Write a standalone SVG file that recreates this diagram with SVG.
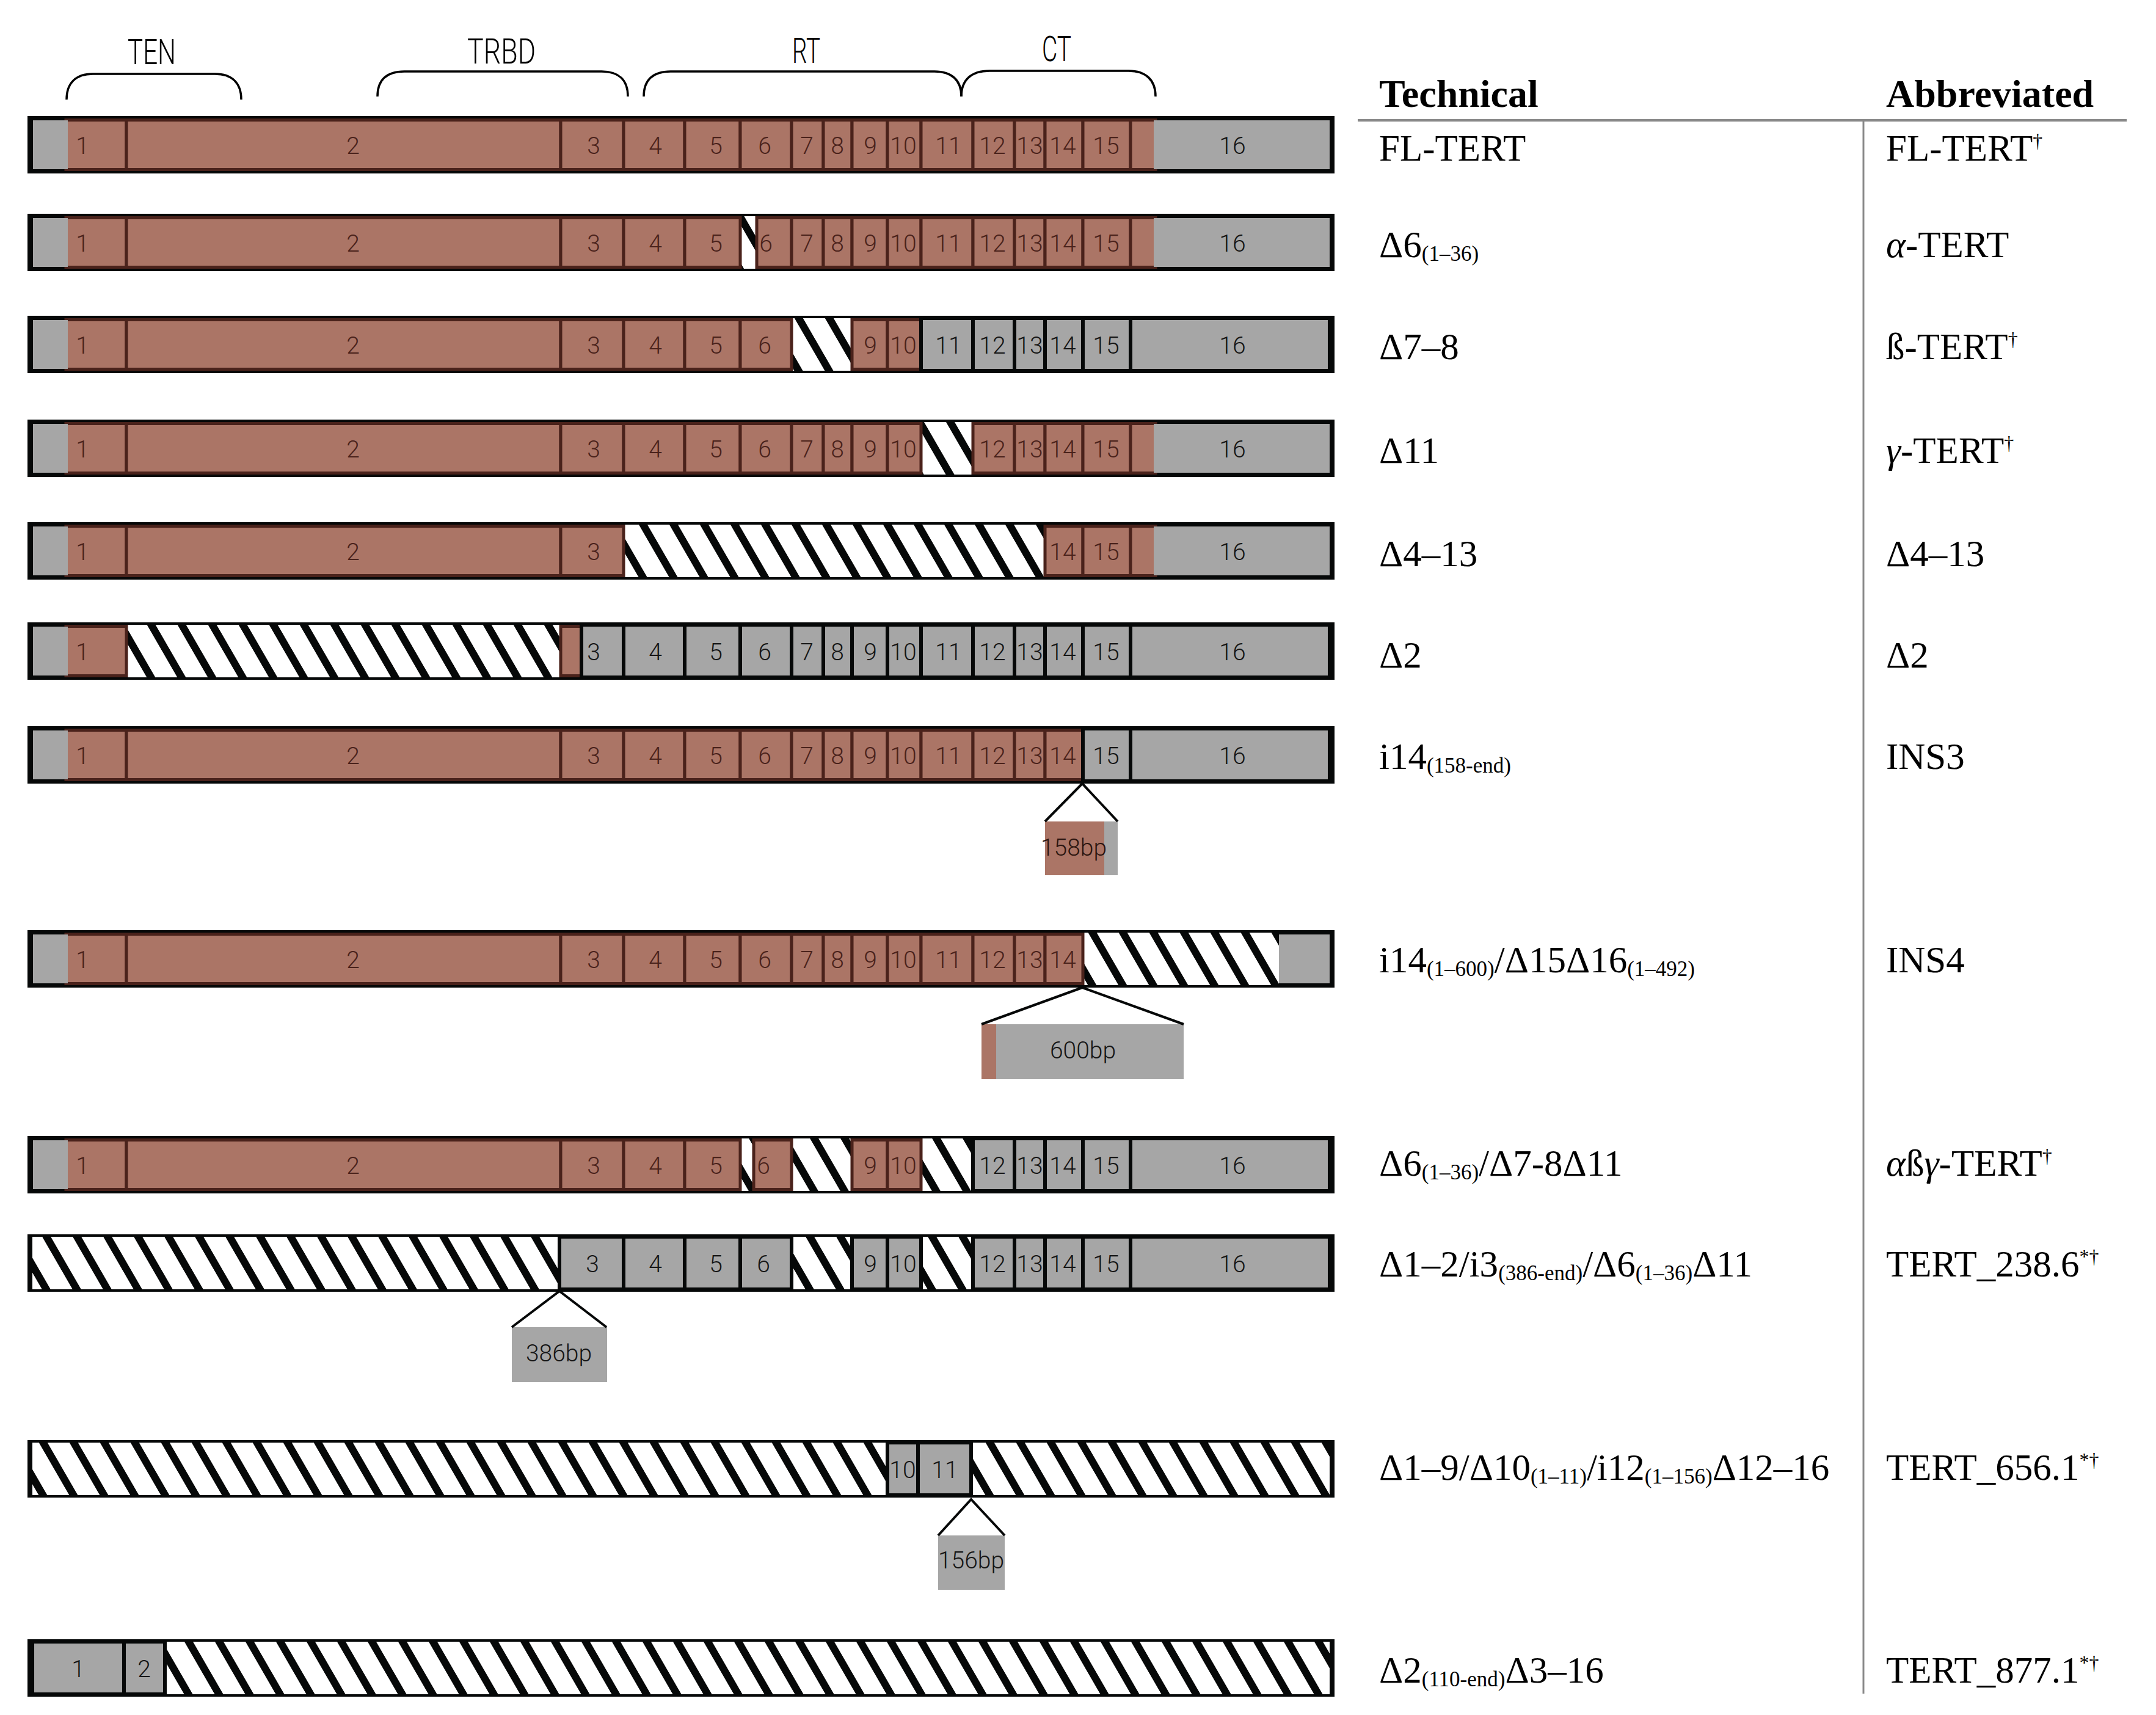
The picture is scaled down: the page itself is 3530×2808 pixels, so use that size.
<svg xmlns="http://www.w3.org/2000/svg" width="3530" height="2808" viewBox="0 0 3530 2808">
<defs>
<pattern id="hatch" patternUnits="userSpaceOnUse" width="50" height="50" patternTransform="skewX(30)">
<rect width="50" height="50" fill="#ffffff"/>
<rect width="14" height="50" fill="#060808"/>
</pattern>
<style>
.fr{fill:#060808}
.b{fill:#ab7566;stroke:#4a221b;stroke-width:5}
.u{fill:#a6a6a6}
.g{fill:#a6a6a6;stroke:#060808;stroke-width:6}
.h{fill:url(#hatch)}
.n{font-family:Roboto,"Liberation Sans",sans-serif;font-weight:300;font-size:39px;text-anchor:middle;fill:#4a221b}
.k{fill:#151515}
.hd{font-family:Roboto,"Liberation Sans",sans-serif;font-weight:300;font-size:58px;fill:#000}
.br{fill:none;stroke:#000;stroke-width:3.5}
.t{font-family:"Liberation Serif","Times New Roman",serif;font-size:61px;fill:#000}
.th{font-family:"Liberation Serif","Times New Roman",serif;font-size:64px;font-weight:bold;fill:#000}
.s{font-size:35px}
.sp{font-size:32px}
.ln{stroke:#898989;stroke-width:4}
.cn{fill:none;stroke:#060808;stroke-width:4;stroke-linejoin:miter}
</style>
</defs>
<rect width="3530" height="2808" fill="#ffffff"/>

<g id="domains">
<path class="br" d="M109,163 C109,136 124,121 152,121 L352,121 C380,121 395,136 395,163"/>
<path class="br" d="M618,158 C618,131 633,117 662,117 L985,117 C1013,117 1028,131 1028,158"/>
<path class="br" d="M1054,158 C1054,131 1069,117 1098,117 L1530,117 C1558,117 1574,131 1574,158"/>
<path class="br" d="M1574,158 C1574,131 1590,116 1620,116 L1848,116 C1876,116 1892,131 1892,158"/>
<text class="hd" x="209" y="105" textLength="79" lengthAdjust="spacingAndGlyphs">TEN</text>
<text class="hd" x="765" y="104" textLength="112" lengthAdjust="spacingAndGlyphs">TRBD</text>
<text class="hd" x="1297" y="103" textLength="46" lengthAdjust="spacingAndGlyphs">RT</text>
<text class="hd" x="1706" y="100" textLength="48" lengthAdjust="spacingAndGlyphs">CT</text>
</g>

<g id="table">
<text class="th" x="2258" y="175">Technical</text>
<text class="th" x="3088" y="175">Abbreviated</text>
<line class="ln" x1="2223" y1="197" x2="3482" y2="197"/>
<line class="ln" x1="3051" y1="197" x2="3051" y2="2773" style="stroke-width:3"/>
</g>

<g id="row1">
<rect class="fr" x="45" y="190" width="2140" height="94"/>
<rect class="b" x="108" y="196.5" width="99" height="81"/>
<rect class="b" x="207" y="196.5" width="711" height="81"/>
<rect class="b" x="918" y="196.5" width="103" height="81"/>
<rect class="b" x="1021" y="196.5" width="100" height="81"/>
<rect class="b" x="1121" y="196.5" width="91" height="81"/>
<rect class="b" x="1212" y="196.5" width="84" height="81"/>
<rect class="b" x="1296" y="196.5" width="52" height="81"/>
<rect class="b" x="1348" y="196.5" width="47" height="81"/>
<rect class="b" x="1395" y="196.5" width="58" height="81"/>
<rect class="b" x="1453" y="196.5" width="55" height="81"/>
<rect class="b" x="1508" y="196.5" width="85" height="81"/>
<rect class="b" x="1593" y="196.5" width="68" height="81"/>
<rect class="b" x="1661" y="196.5" width="50" height="81"/>
<rect class="b" x="1711" y="196.5" width="62" height="81"/>
<rect class="b" x="1773" y="196.5" width="78" height="81"/>
<rect class="b" x="1851" y="196.5" width="41" height="81"/>
<rect class="u" x="54" y="197" width="57" height="80"/>
<rect class="u" x="1889" y="197" width="288" height="80"/>
<text class="n" y="252"><tspan x="135">1</tspan><tspan x="578">2</tspan><tspan x="972">3</tspan><tspan x="1073">4</tspan><tspan x="1172">5</tspan><tspan x="1252">6</tspan><tspan x="1321">7</tspan><tspan x="1371">8</tspan><tspan x="1425">9</tspan><tspan x="1479">10</tspan><tspan x="1553">11</tspan><tspan x="1625">12</tspan><tspan x="1686">13</tspan><tspan x="1740">14</tspan><tspan x="1811">15</tspan></text>
<text class="n k" x="2018" y="252">16</text>
<text class="t" x="2258" y="263">FL-TERT</text>
<text class="t" x="3088" y="263">FL-TERT<tspan class="sp" dy="-22">†</tspan></text>
</g>

<g id="row2">
<rect class="fr" x="45" y="350" width="2140" height="94"/>
<rect class="h" x="1212" y="354" width="27" height="86"/>
<rect class="b" x="108" y="356.5" width="99" height="81"/>
<rect class="b" x="207" y="356.5" width="711" height="81"/>
<rect class="b" x="918" y="356.5" width="103" height="81"/>
<rect class="b" x="1021" y="356.5" width="100" height="81"/>
<rect class="b" x="1121" y="356.5" width="91" height="81"/>
<rect class="b" x="1239" y="356.5" width="57" height="81"/>
<rect class="b" x="1296" y="356.5" width="52" height="81"/>
<rect class="b" x="1348" y="356.5" width="47" height="81"/>
<rect class="b" x="1395" y="356.5" width="58" height="81"/>
<rect class="b" x="1453" y="356.5" width="55" height="81"/>
<rect class="b" x="1508" y="356.5" width="85" height="81"/>
<rect class="b" x="1593" y="356.5" width="68" height="81"/>
<rect class="b" x="1661" y="356.5" width="50" height="81"/>
<rect class="b" x="1711" y="356.5" width="62" height="81"/>
<rect class="b" x="1773" y="356.5" width="78" height="81"/>
<rect class="b" x="1851" y="356.5" width="41" height="81"/>
<rect class="u" x="54" y="357" width="57" height="80"/>
<rect class="u" x="1889" y="357" width="288" height="80"/>
<text class="n" y="412"><tspan x="135">1</tspan><tspan x="578">2</tspan><tspan x="972">3</tspan><tspan x="1073">4</tspan><tspan x="1172">5</tspan><tspan x="1254">6</tspan><tspan x="1321">7</tspan><tspan x="1371">8</tspan><tspan x="1425">9</tspan><tspan x="1479">10</tspan><tspan x="1553">11</tspan><tspan x="1625">12</tspan><tspan x="1686">13</tspan><tspan x="1740">14</tspan><tspan x="1811">15</tspan></text>
<text class="n k" x="2018" y="412">16</text>
<text class="t" x="2258" y="421">Δ6<tspan class="s" dy="6">(1–36)</tspan></text>
<text class="t" x="3088" y="421"><tspan font-style="italic">α</tspan>-TERT</text>
</g>

<g id="row3">
<rect class="fr" x="45" y="517" width="2140" height="94"/>
<rect class="h" x="1296" y="521" width="99" height="86"/>
<rect class="b" x="108" y="523.5" width="99" height="81"/>
<rect class="b" x="207" y="523.5" width="711" height="81"/>
<rect class="b" x="918" y="523.5" width="103" height="81"/>
<rect class="b" x="1021" y="523.5" width="100" height="81"/>
<rect class="b" x="1121" y="523.5" width="91" height="81"/>
<rect class="b" x="1212" y="523.5" width="84" height="81"/>
<rect class="b" x="1395" y="523.5" width="58" height="81"/>
<rect class="b" x="1453" y="523.5" width="55" height="81"/>
<rect class="u" x="54" y="524" width="57" height="80"/>
<rect class="g" x="1508" y="521" width="85" height="86"/>
<rect class="g" x="1593" y="521" width="68" height="86"/>
<rect class="g" x="1661" y="521" width="50" height="86"/>
<rect class="g" x="1711" y="521" width="62" height="86"/>
<rect class="g" x="1773" y="521" width="78" height="86"/>
<rect class="g" x="1851" y="521" width="326" height="86"/>
<text class="n" y="579"><tspan x="135">1</tspan><tspan x="578">2</tspan><tspan x="972">3</tspan><tspan x="1073">4</tspan><tspan x="1172">5</tspan><tspan x="1252">6</tspan><tspan x="1425">9</tspan><tspan x="1479">10</tspan></text>
<text class="n k" y="579"><tspan x="1553">11</tspan><tspan x="1625">12</tspan><tspan x="1686">13</tspan><tspan x="1740">14</tspan><tspan x="1811">15</tspan><tspan x="2018">16</tspan></text>
<text class="t" x="2258" y="588">Δ7–8</text>
<text class="t" x="3088" y="588">ß-TERT<tspan class="sp" dy="-22">†</tspan></text>
</g>

<g id="row4">
<rect class="fr" x="45" y="687" width="2140" height="94"/>
<rect class="h" x="1508" y="691" width="85" height="86"/>
<rect class="b" x="108" y="693.5" width="99" height="81"/>
<rect class="b" x="207" y="693.5" width="711" height="81"/>
<rect class="b" x="918" y="693.5" width="103" height="81"/>
<rect class="b" x="1021" y="693.5" width="100" height="81"/>
<rect class="b" x="1121" y="693.5" width="91" height="81"/>
<rect class="b" x="1212" y="693.5" width="84" height="81"/>
<rect class="b" x="1296" y="693.5" width="52" height="81"/>
<rect class="b" x="1348" y="693.5" width="47" height="81"/>
<rect class="b" x="1395" y="693.5" width="58" height="81"/>
<rect class="b" x="1453" y="693.5" width="55" height="81"/>
<rect class="b" x="1593" y="693.5" width="68" height="81"/>
<rect class="b" x="1661" y="693.5" width="50" height="81"/>
<rect class="b" x="1711" y="693.5" width="62" height="81"/>
<rect class="b" x="1773" y="693.5" width="78" height="81"/>
<rect class="b" x="1851" y="693.5" width="41" height="81"/>
<rect class="u" x="54" y="694" width="57" height="80"/>
<rect class="u" x="1889" y="694" width="288" height="80"/>
<text class="n" y="749"><tspan x="135">1</tspan><tspan x="578">2</tspan><tspan x="972">3</tspan><tspan x="1073">4</tspan><tspan x="1172">5</tspan><tspan x="1252">6</tspan><tspan x="1321">7</tspan><tspan x="1371">8</tspan><tspan x="1425">9</tspan><tspan x="1479">10</tspan><tspan x="1625">12</tspan><tspan x="1686">13</tspan><tspan x="1740">14</tspan><tspan x="1811">15</tspan></text>
<text class="n k" x="2018" y="749">16</text>
<text class="t" x="2258" y="758">Δ11</text>
<text class="t" x="3088" y="758"><tspan font-style="italic">γ</tspan>-TERT<tspan class="sp" dy="-22">†</tspan></text>
</g>

<g id="row5">
<rect class="fr" x="45" y="855" width="2140" height="94"/>
<rect class="h" x="1021" y="859" width="690" height="86"/>
<rect class="b" x="108" y="861.5" width="99" height="81"/>
<rect class="b" x="207" y="861.5" width="711" height="81"/>
<rect class="b" x="918" y="861.5" width="103" height="81"/>
<rect class="b" x="1711" y="861.5" width="62" height="81"/>
<rect class="b" x="1773" y="861.5" width="78" height="81"/>
<rect class="b" x="1851" y="861.5" width="41" height="81"/>
<rect class="u" x="54" y="862" width="57" height="80"/>
<rect class="u" x="1889" y="862" width="288" height="80"/>
<text class="n" y="917"><tspan x="135">1</tspan><tspan x="578">2</tspan><tspan x="972">3</tspan><tspan x="1740">14</tspan><tspan x="1811">15</tspan></text>
<text class="n k" x="2018" y="917">16</text>
<text class="t" x="2258" y="927">Δ4–13</text>
<text class="t" x="3088" y="927">Δ4–13</text>
</g>

<g id="row6">
<rect class="fr" x="45" y="1019" width="2140" height="94"/>
<rect class="h" x="207" y="1023" width="711" height="86"/>
<rect class="b" x="108" y="1025.5" width="99" height="81"/>
<rect class="b" x="918" y="1025.5" width="36" height="81"/>
<rect class="u" x="54" y="1026" width="57" height="80"/>
<rect class="g" x="952" y="1023" width="69" height="86"/>
<rect class="g" x="1021" y="1023" width="100" height="86"/>
<rect class="g" x="1121" y="1023" width="91" height="86"/>
<rect class="g" x="1212" y="1023" width="84" height="86"/>
<rect class="g" x="1296" y="1023" width="52" height="86"/>
<rect class="g" x="1348" y="1023" width="47" height="86"/>
<rect class="g" x="1395" y="1023" width="58" height="86"/>
<rect class="g" x="1453" y="1023" width="55" height="86"/>
<rect class="g" x="1508" y="1023" width="85" height="86"/>
<rect class="g" x="1593" y="1023" width="68" height="86"/>
<rect class="g" x="1661" y="1023" width="50" height="86"/>
<rect class="g" x="1711" y="1023" width="62" height="86"/>
<rect class="g" x="1773" y="1023" width="78" height="86"/>
<rect class="g" x="1851" y="1023" width="326" height="86"/>
<text class="n" x="135" y="1081">1</text>
<text class="n k" y="1081"><tspan x="972">3</tspan><tspan x="1073">4</tspan><tspan x="1172">5</tspan><tspan x="1252">6</tspan><tspan x="1321">7</tspan><tspan x="1371">8</tspan><tspan x="1425">9</tspan><tspan x="1479">10</tspan><tspan x="1553">11</tspan><tspan x="1625">12</tspan><tspan x="1686">13</tspan><tspan x="1740">14</tspan><tspan x="1811">15</tspan><tspan x="2018">16</tspan></text>
<text class="t" x="2258" y="1093">Δ2</text>
<text class="t" x="3088" y="1093">Δ2</text>
</g>

<g id="row7">
<rect class="fr" x="45" y="1189" width="2140" height="94"/>
<rect class="b" x="108" y="1195.5" width="99" height="81"/>
<rect class="b" x="207" y="1195.5" width="711" height="81"/>
<rect class="b" x="918" y="1195.5" width="103" height="81"/>
<rect class="b" x="1021" y="1195.5" width="100" height="81"/>
<rect class="b" x="1121" y="1195.5" width="91" height="81"/>
<rect class="b" x="1212" y="1195.5" width="84" height="81"/>
<rect class="b" x="1296" y="1195.5" width="52" height="81"/>
<rect class="b" x="1348" y="1195.5" width="47" height="81"/>
<rect class="b" x="1395" y="1195.5" width="58" height="81"/>
<rect class="b" x="1453" y="1195.5" width="55" height="81"/>
<rect class="b" x="1508" y="1195.5" width="85" height="81"/>
<rect class="b" x="1593" y="1195.5" width="68" height="81"/>
<rect class="b" x="1661" y="1195.5" width="50" height="81"/>
<rect class="b" x="1711" y="1195.5" width="62" height="81"/>
<rect class="u" x="54" y="1196" width="57" height="80"/>
<rect class="g" x="1773" y="1193" width="78" height="86"/>
<rect class="g" x="1851" y="1193" width="326" height="86"/>
<text class="n" y="1251"><tspan x="135">1</tspan><tspan x="578">2</tspan><tspan x="972">3</tspan><tspan x="1073">4</tspan><tspan x="1172">5</tspan><tspan x="1252">6</tspan><tspan x="1321">7</tspan><tspan x="1371">8</tspan><tspan x="1425">9</tspan><tspan x="1479">10</tspan><tspan x="1553">11</tspan><tspan x="1625">12</tspan><tspan x="1686">13</tspan><tspan x="1740">14</tspan></text>
<text class="n k" y="1251"><tspan x="1811">15</tspan><tspan x="2018">16</tspan></text>
<rect x="1711" y="1345" width="97" height="88" fill="#ab7566"/>
<rect x="1808" y="1345" width="22" height="88" fill="#a6a6a6"/>
<text class="n" x="1758" y="1401" style="fill:#2b1510">158bp</text>
<text class="t" x="2258" y="1259">i14<tspan class="s" dy="6">(158-end)</tspan></text>
<text class="t" x="3088" y="1259">INS3</text>
</g>

<g id="row8">
<rect class="fr" x="45" y="1523" width="2140" height="94"/>
<rect class="h" x="1773" y="1527" width="321" height="86"/>
<rect class="b" x="108" y="1529.5" width="99" height="81"/>
<rect class="b" x="207" y="1529.5" width="711" height="81"/>
<rect class="b" x="918" y="1529.5" width="103" height="81"/>
<rect class="b" x="1021" y="1529.5" width="100" height="81"/>
<rect class="b" x="1121" y="1529.5" width="91" height="81"/>
<rect class="b" x="1212" y="1529.5" width="84" height="81"/>
<rect class="b" x="1296" y="1529.5" width="52" height="81"/>
<rect class="b" x="1348" y="1529.5" width="47" height="81"/>
<rect class="b" x="1395" y="1529.5" width="58" height="81"/>
<rect class="b" x="1453" y="1529.5" width="55" height="81"/>
<rect class="b" x="1508" y="1529.5" width="85" height="81"/>
<rect class="b" x="1593" y="1529.5" width="68" height="81"/>
<rect class="b" x="1661" y="1529.5" width="50" height="81"/>
<rect class="b" x="1711" y="1529.5" width="62" height="81"/>
<rect class="u" x="54" y="1530" width="57" height="80"/>
<rect class="u" x="2094" y="1530" width="83" height="80"/>
<text class="n" y="1585"><tspan x="135">1</tspan><tspan x="578">2</tspan><tspan x="972">3</tspan><tspan x="1073">4</tspan><tspan x="1172">5</tspan><tspan x="1252">6</tspan><tspan x="1321">7</tspan><tspan x="1371">8</tspan><tspan x="1425">9</tspan><tspan x="1479">10</tspan><tspan x="1553">11</tspan><tspan x="1625">12</tspan><tspan x="1686">13</tspan><tspan x="1740">14</tspan></text>
<rect x="1607" y="1677" width="24" height="90" fill="#ab7566"/>
<rect x="1631" y="1677" width="307" height="90" fill="#a6a6a6"/>
<text class="n k" x="1773" y="1733">600bp</text>
<text class="t" x="2258" y="1592">i14<tspan class="s" dy="6">(1–600)</tspan><tspan dy="-6">/Δ15Δ16</tspan><tspan class="s" dy="6">(1–492)</tspan></text>
<text class="t" x="3088" y="1592">INS4</text>
</g>

<g id="row9">
<rect class="fr" x="45" y="1860" width="2140" height="94"/>
<rect class="h" x="1212" y="1864" width="22" height="86"/>
<rect class="h" x="1296" y="1864" width="99" height="86"/>
<rect class="h" x="1508" y="1864" width="85" height="86"/>
<rect class="b" x="108" y="1866.5" width="99" height="81"/>
<rect class="b" x="207" y="1866.5" width="711" height="81"/>
<rect class="b" x="918" y="1866.5" width="103" height="81"/>
<rect class="b" x="1021" y="1866.5" width="100" height="81"/>
<rect class="b" x="1121" y="1866.5" width="91" height="81"/>
<rect class="b" x="1234" y="1866.5" width="62" height="81"/>
<rect class="b" x="1395" y="1866.5" width="58" height="81"/>
<rect class="b" x="1453" y="1866.5" width="55" height="81"/>
<rect class="u" x="54" y="1867" width="57" height="80"/>
<rect class="g" x="1593" y="1864" width="68" height="86"/>
<rect class="g" x="1661" y="1864" width="50" height="86"/>
<rect class="g" x="1711" y="1864" width="62" height="86"/>
<rect class="g" x="1773" y="1864" width="78" height="86"/>
<rect class="g" x="1851" y="1864" width="326" height="86"/>
<text class="n" y="1922"><tspan x="135">1</tspan><tspan x="578">2</tspan><tspan x="972">3</tspan><tspan x="1073">4</tspan><tspan x="1172">5</tspan><tspan x="1250">6</tspan><tspan x="1425">9</tspan><tspan x="1479">10</tspan></text>
<text class="n k" y="1922"><tspan x="1625">12</tspan><tspan x="1686">13</tspan><tspan x="1740">14</tspan><tspan x="1811">15</tspan><tspan x="2018">16</tspan></text>
<text class="t" x="2258" y="1925">Δ6<tspan class="s" dy="6">(1–36)</tspan><tspan dy="-6">/Δ7-8Δ11</tspan></text>
<text class="t" x="3088" y="1925"><tspan font-style="italic">α</tspan>ß<tspan font-style="italic">γ</tspan>-TERT<tspan class="sp" dy="-22">†</tspan></text>
</g>

<g id="row10">
<rect class="fr" x="45" y="2021" width="2140" height="94"/>
<rect class="h" x="53" y="2025" width="863" height="86"/>
<rect class="h" x="1296" y="2025" width="99" height="86"/>
<rect class="h" x="1508" y="2025" width="85" height="86"/>
<rect class="g" x="916" y="2025" width="105" height="86"/>
<rect class="g" x="1021" y="2025" width="100" height="86"/>
<rect class="g" x="1121" y="2025" width="91" height="86"/>
<rect class="g" x="1212" y="2025" width="84" height="86"/>
<rect class="g" x="1395" y="2025" width="58" height="86"/>
<rect class="g" x="1453" y="2025" width="55" height="86"/>
<rect class="g" x="1593" y="2025" width="68" height="86"/>
<rect class="g" x="1661" y="2025" width="50" height="86"/>
<rect class="g" x="1711" y="2025" width="62" height="86"/>
<rect class="g" x="1773" y="2025" width="78" height="86"/>
<rect class="g" x="1851" y="2025" width="326" height="86"/>
<text class="n k" y="2083"><tspan x="970">3</tspan><tspan x="1073">4</tspan><tspan x="1172">5</tspan><tspan x="1250">6</tspan><tspan x="1425">9</tspan><tspan x="1479">10</tspan><tspan x="1625">12</tspan><tspan x="1686">13</tspan><tspan x="1740">14</tspan><tspan x="1811">15</tspan><tspan x="2018">16</tspan></text>
<rect x="838" y="2173" width="156" height="90" fill="#a6a6a6"/>
<text class="n k" x="915" y="2229">386bp</text>
<text class="t" x="2258" y="2090">Δ1–2/i3<tspan class="s" dy="6">(386-end)</tspan><tspan dy="-6">/Δ6</tspan><tspan class="s" dy="6">(1–36)</tspan><tspan dy="-6">Δ11</tspan></text>
<text class="t" x="3088" y="2090">TERT_238.6<tspan class="sp" dy="-22">*†</tspan></text>
</g>

<g id="row11">
<rect class="fr" x="45" y="2358" width="2140" height="94"/>
<rect class="h" x="53" y="2362" width="1400" height="86"/>
<rect class="h" x="1590" y="2362" width="587" height="86"/>
<rect class="g" x="1453" y="2362" width="50" height="86"/>
<rect class="g" x="1503" y="2362" width="87" height="86"/>
<text class="n k" y="2420"><tspan x="1478">10</tspan><tspan x="1547">11</tspan></text>
<rect x="1536" y="2514" width="109" height="89" fill="#a6a6a6"/>
<text class="n k" x="1590" y="2568">156bp</text>
<text class="t" x="2258" y="2423">Δ1–9/Δ10<tspan class="s" dy="6">(1–11)</tspan><tspan dy="-6">/i12</tspan><tspan class="s" dy="6">(1–156)</tspan><tspan dy="-6">Δ12–16</tspan></text>
<text class="t" x="3088" y="2423">TERT_656.1<tspan class="sp" dy="-22">*†</tspan></text>
</g>

<g id="row12">
<rect class="fr" x="45" y="2684" width="2140" height="94"/>
<rect class="h" x="270" y="2688" width="1907" height="86"/>
<rect class="g" x="53" y="2688" width="150" height="86"/>
<rect class="g" x="203" y="2688" width="67" height="86"/>
<text class="n k" y="2746"><tspan x="128">1</tspan><tspan x="236">2</tspan></text>
<text class="t" x="2258" y="2755">Δ2<tspan class="s" dy="6">(110-end)</tspan><tspan dy="-6">Δ3–16</tspan></text>
<text class="t" x="3088" y="2755">TERT_877.1<tspan class="sp" dy="-22">*†</tspan></text>
</g>

<g id="connectors">
<polyline class="cn" points="1711,1345 1772,1283 1830,1345"/>
<polyline class="cn" points="1607,1677 1772,1617 1938,1677"/>
<polyline class="cn" points="838,2173 916,2114 993,2173"/>
<polyline class="cn" points="1536,2514 1590,2455 1645,2514"/>
</g>
</svg>
